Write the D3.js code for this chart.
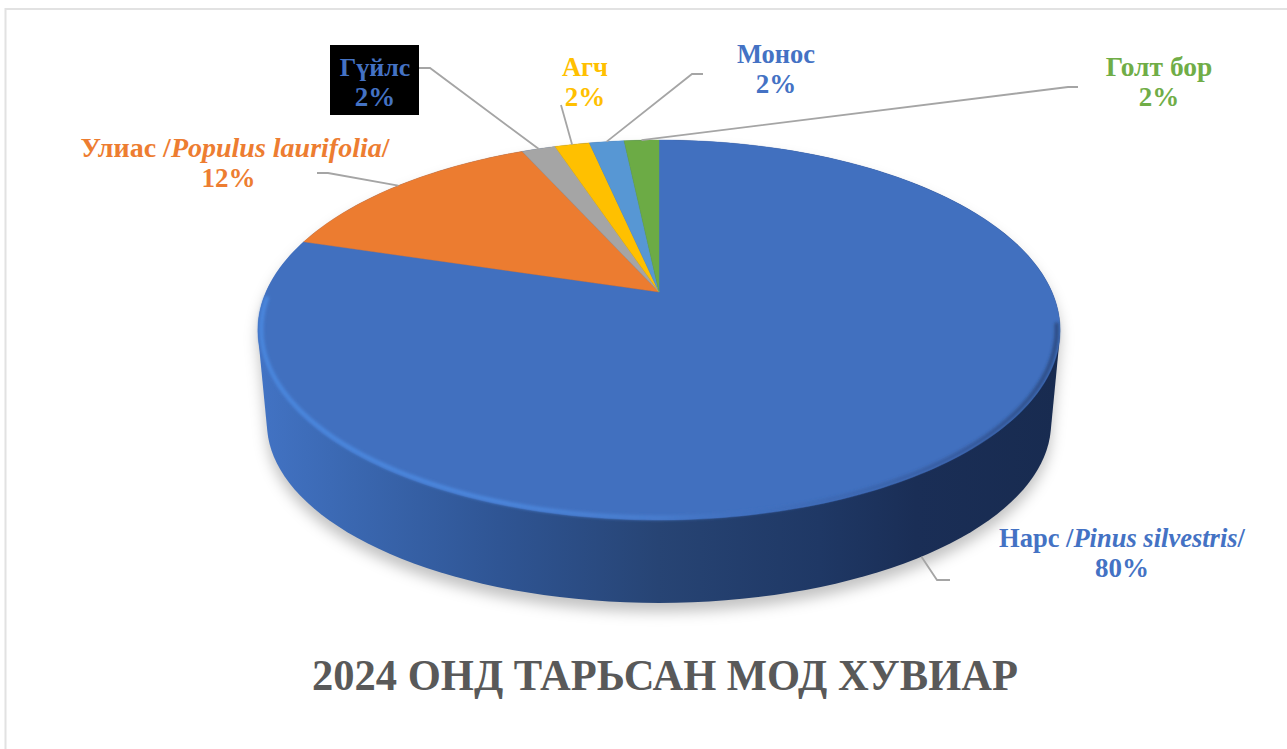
<!DOCTYPE html>
<html>
<head>
<meta charset="utf-8">
<script src="https://cdn.jsdelivr.net/npm/d3@7"></script>
<style>
  html, body { margin: 0; background: #fff; overflow: hidden; }
  text { font-family: "Liberation Serif", serif; font-weight: bold; }
</style>
</head>
<body>
<div id="chart"></div>
<script>
// Slice shares, the printed percentages differ slightly
var species = ["Нарс", "Улиас", "Гүйлс", "Агч", "Монос", "Голт бор"];
var latin = ["Pinus silvestris", "Populus laurifolia", null, null, null, null];
var shares = [79.7, 13.55, 1.65, 1.7, 1.7, 1.7];
var printed = ["80%", "12%", "2%", "2%", "2%", "2%"];
var colours = ["#4170bf", "#ec7c30", "#a5a5a5", "#ffc000", "#5797d4", "#6cab45"];
var label_colours = ["#4472c4", "#ed7d31", "#4472c4", "#ffc000", "#4472c4", "#70ad47"];

// Label centre, first baseline, font size and elbow of the leader line
var label_layout = [
    {x: 1122, y: 547, size: 26.5, elbow: [937, 580], end: [950, 580], lower: true, nudge: 0.03},
    {x: 235, y: 157, size: 28, pct_x: 228.5, elbow: [328, 173], end: [317, 173]},
    {x: 375, y: 76, size: 26, elbow: [430, 68], end: [419, 68], box: [330, 45, 89, 70]},
    {x: 585, y: 76, size: 26.5, elbow: null, end: [561, 105]},
    {x: 776, y: 63, size: 26.5, elbow: [692, 74], end: [703, 74]},
    {x: 1159, y: 76, size: 27.5, elbow: [1068, 87], end: [1078, 87]}
];

var width = 1287, height = 749;

// Tilted disc: the circle is put through a perspective so the apex sits above the ellipse centre
var cx = 659, apex_y = 292, disc_a = 393, disc_b = 182.4, persp = 0.2;
// Wall bottom is the same ring, smaller and moved down
var ring_mid = 330, low_sx = 0.9775, low_sy = 0.947, low_mid = 423;

function top_point(angle, r)
{
    var u = r * Math.sin(angle), v = -r * Math.cos(angle);
    var w = 1 - persp * v;
    return [cx + disc_a * u / w, apex_y + disc_b * v / w];
}

function low_point(angle)
{
    var p = top_point(angle, 1);
    return [cx + (p[0] - cx) * low_sx, low_mid + (p[1] - ring_mid) * low_sy];
}

var svg = d3.select("#chart").append("svg")
    .attr("width", width)
    .attr("height", height)
    .style("display", "block");

var defs = svg.append("defs");

function add_gradient(id, stops)
{
    var g = defs.append("linearGradient")
        .attr("id", id)
        .attr("gradientUnits", "userSpaceOnUse")
        .attr("x1", 258).attr("x2", 1060)
        .attr("y1", 0).attr("y2", 0);
    stops.forEach(function(s)
    {
        g.append("stop")
            .attr("offset", s[0])
            .attr("stop-color", s[1])
            .attr("stop-opacity", s[2] === undefined ? 1 : s[2]);
    });
}

add_gradient("wall", [
    [0, "#4273c4"], [0.12, "#3a67b0"], [0.3, "#2f5594"],
    [0.5, "#274474"], [0.7, "#1f3865"], [0.82, "#1a2e56"], [1, "#182b50"]
]);
add_gradient("rim", [
    [0, "#4a86dd"], [0.3, "#4b86dc"], [0.5, "#4a80d2", 0.8],
    [0.62, "#3f6fbe", 0.35], [0.8, "#2a4a85", 0.35], [1, "#1f3560", 0.6]
]);

defs.append("filter").attr("id", "soft")
    .attr("x", "-10%").attr("y", "-10%").attr("width", "120%").attr("height", "120%")
    .append("feGaussianBlur").attr("stdDeviation", 7);
defs.append("filter").attr("id", "soft_rim")
    .attr("x", "-5%").attr("y", "-5%").attr("width", "110%").attr("height", "110%")
    .append("feGaussianBlur").attr("stdDeviation", 1.6);

// Outer frame, only top and left show
svg.append("path")
    .attr("d", d3.line()([[5.5, height], [5.5, 9], [width, 9]]))
    .attr("fill", "none")
    .attr("stroke", "#e2e2e2")
    .attr("stroke-width", 2);

var line = d3.line();
var ring_angles = d3.range(0, 361, 2).map(function(d) { return d * Math.PI / 180; });

// Shadow and wall
var hull = d3.polygonHull(ring_angles.map(function(a) { return top_point(a, 1); })
    .concat(ring_angles.map(low_point)));

svg.append("path")
    .attr("d", line(hull) + "Z")
    .attr("transform", "translate(0,9)")
    .attr("fill", "#000")
    .attr("fill-opacity", 0.24)
    .attr("filter", "url(#soft)");

svg.append("path")
    .attr("d", line(hull) + "Z")
    .attr("fill", "url(#wall)");

// Slices from the layout
var pie = d3.pie().sort(null).value(function(d) { return d; });
var arcs = pie(shares);

function slice_points(d)
{
    var n = Math.max(2, Math.ceil((d.endAngle - d.startAngle) / 0.02));
    var pts = [[cx, apex_y]];
    d3.range(n + 1).forEach(function(i)
    {
        pts.push(top_point(d.startAngle + (d.endAngle - d.startAngle) * i / n, 1));
    });
    return pts;
}

svg.selectAll(".slice")
    .data(arcs)
    .enter().append("path")
    .attr("class", "slice")
    .attr("d", function(d) { return line(slice_points(d)) + "Z"; })
    .attr("fill", function(d, i) { return colours[i]; })
    .attr("stroke", function(d, i) { return colours[i]; })
    .attr("stroke-width", 0.4);

// Bevel along the front edge of the top face
var rim_angles = d3.range(100, 269, 2).map(function(d) { return d * Math.PI / 180; });
svg.append("path")
    .attr("d", line(rim_angles.map(function(a) { return top_point(a, 0.992); })))
    .attr("fill", "none")
    .attr("stroke", "url(#rim)")
    .attr("stroke-width", 4.5)
    .attr("stroke-linecap", "round")
    .attr("filter", "url(#soft_rim)");

// Leader lines start on the middle of their slice
function leader_points(d, i)
{
    var l = label_layout[i];
    var mid = (d.startAngle + d.endAngle) / 2 + (l.nudge || 0);
    var pts = [l.lower ? low_point(mid) : top_point(mid, 1)];
    if (l.elbow) pts.push(l.elbow);
    pts.push(l.end);
    return pts;
}

svg.selectAll(".leader")
    .data(arcs)
    .enter().append("path")
    .attr("class", "leader")
    .attr("d", function(d, i) { return line(leader_points(d, i)); })
    .attr("fill", "none")
    .attr("stroke", "#a5a5a5")
    .attr("stroke-width", 1.8);

// Labels
var labels = svg.selectAll(".label")
    .data(species)
    .enter().append("g")
    .attr("class", "label");

labels.filter(function(d, i) { return label_layout[i].box; })
    .append("rect")
    .each(function(d)
    {
        var b = label_layout[species.indexOf(d)].box;
        d3.select(this)
            .attr("x", b[0]).attr("y", b[1])
            .attr("width", b[2]).attr("height", b[3]);
    })
    .attr("fill", "#000");

var first_line = labels.append("text")
    .attr("x", function(d, i) { return label_layout[i].x; })
    .attr("y", function(d, i) { return label_layout[i].y; })
    .attr("text-anchor", "middle")
    .attr("font-size", function(d, i) { return label_layout[i].size; })
    .attr("fill", function(d, i) { return label_colours[i]; });

first_line.append("tspan")
    .text(function(d, i) { return latin[i] ? d + " /" : d; });
first_line.append("tspan")
    .attr("font-style", "italic")
    .text(function(d, i) { return latin[i] ? latin[i] : ""; });
first_line.append("tspan")
    .text(function(d, i) { return latin[i] ? "/" : ""; });

labels.append("text")
    .attr("x", function(d, i) { return label_layout[i].pct_x || label_layout[i].x; })
    .attr("y", function(d, i) { return label_layout[i].y + 30; })
    .attr("text-anchor", "middle")
    .attr("font-size", 27)
    .attr("fill", function(d, i) { return label_colours[i]; })
    .text(function(d, i) { return printed[i]; });

// Title, a little condensed as in the original
svg.append("text")
    .attr("x", 665)
    .attr("y", 690)
    .attr("text-anchor", "middle")
    .attr("font-size", 44)
    .attr("textLength", 706)
    .attr("lengthAdjust", "spacingAndGlyphs")
    .attr("fill", "#595959")
    .text("2024 ОНД ТАРЬСАН МОД ХУВИАР");
</script>
</body>
</html>
